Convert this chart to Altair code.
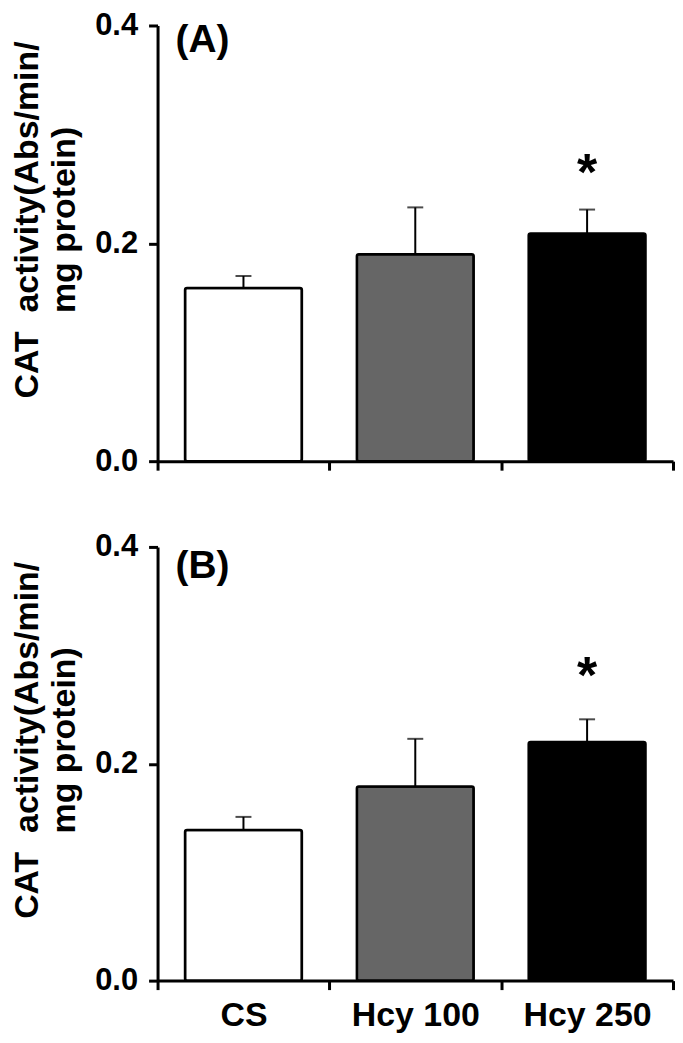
import altair as alt
import pandas as pd

categories = ["CS", "Hcy 100", "Hcy 250"]

mean_a = [0.159, 0.190, 0.209]
err_a = [0.011, 0.043, 0.022]
star_a = [None, None, 0.274]

mean_b = [0.139, 0.179, 0.220]
err_b = [0.012, 0.044, 0.021]
star_b = [None, None, 0.290]

y_ticks = [0.0, 0.2, 0.4]
y_title = ["CAT\u00a0\u00a0activity(Abs/min/", "mg protein)"]
panel_labels = ["(A)", "(B)"]

FONT = "Liberation Sans, Arial, Helvetica, sans-serif"
fills = ["white", "#666666", "black"]
W = 517


def panel(mean, err, star, label, height, show_labels, label_y):
    df = pd.DataFrame({
        "cat": categories,
        "mean": mean,
        "upper": [m + e for m, e in zip(mean, err)],
    })
    sdf = pd.DataFrame({"cat": categories, "star": star}).dropna()
    sdf["txt"] = "*"

    xaxis = alt.Axis(
        tickBand="extent", title=None, labels=show_labels,
        labelFontSize=34, labelFontWeight="bold", labelColor="black",
        labelAngle=0, labelPadding=9, tickSize=9, tickWidth=3,
        tickColor="black", domainWidth=3, domainColor="black", grid=False,
    )
    xenc = alt.X("cat:N", sort=categories,
                 scale=alt.Scale(paddingInner=0, paddingOuter=0), axis=xaxis)
    yscale = alt.Scale(domain=[0, 0.4])
    yaxis = alt.Axis(
        values=y_ticks, format=".1f", labelFontSize=31, labelFontWeight="bold",
        labelColor="black", labelPadding=11, tickSize=9, tickWidth=3,
        tickColor="black", domainWidth=3, domainColor="black", grid=False,
        title=y_title, titleFontSize=34, titleFontWeight="bold",
        titleColor="black", titleX=-147, titleY=height / 2 - 24,
        titleAngle=270, titleAlign="center", titleBaseline="top",
        titleLineHeight=37,
    )

    base = alt.Chart(df)
    bars = base.mark_bar(
        width=alt.RelativeBandSize(0.68), stroke="black", strokeWidth=2.5,
        cornerRadius=2,
    ).encode(
        x=xenc,
        y=alt.Y("mean:Q", scale=yscale, axis=yaxis),
        fill=alt.Fill("cat:N", scale=alt.Scale(domain=categories, range=fills),
                      legend=None),
    )
    rule = base.mark_rule(color="black", strokeWidth=2).encode(
        x=alt.X("cat:N", sort=categories), y="mean:Q", y2="upper:Q")
    cap = base.mark_tick(color="black", thickness=2, size=16,
                         orient="horizontal").encode(
        x=alt.X("cat:N", sort=categories), y="upper:Q")
    stars = alt.Chart(sdf).mark_text(
        fontSize=52, fontWeight="bold", font=FONT, color="black",
        baseline="middle", dy=11,
    ).encode(x=alt.X("cat:N", sort=categories), y="star:Q", text="txt:N")
    lab = alt.Chart(pd.DataFrame({"t": [label]})).mark_text(
        fontSize=39, fontWeight="bold", font=FONT, color="black",
        align="left", baseline="middle",
    ).encode(x=alt.value(18), y=alt.value(label_y), text="t:N")

    return alt.layer(bars, rule, cap, stars, lab).properties(
        width=W, height=height)


top = panel(mean_a, err_a, star_a, panel_labels[0], 437, False, 15)
bottom = panel(mean_b, err_b, star_b, panel_labels[1], 435, True, 19)

chart = alt.vconcat(top, bottom, spacing=55).properties(
    padding={"left": 3, "top": 0, "right": 0, "bottom": 0}
).configure(font=FONT).configure_view(strokeWidth=0)

chart.save("out.html", embed_options={"renderer": "svg", "actions": False})
